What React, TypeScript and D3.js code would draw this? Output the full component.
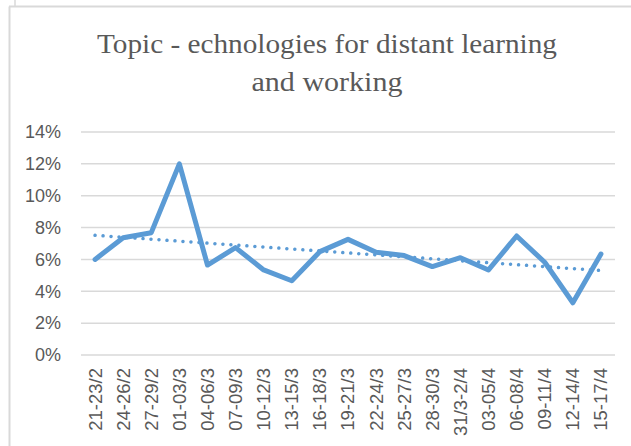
import React from "react";
import * as d3 from "d3";

const categories = [
  "21-23/2", "24-26/2", "27-29/2", "01-03/3", "04-06/3", "07-09/3", "10-12/3",
  "13-15/3", "16-18/3", "19-21/3", "22-24/3", "25-27/3", "28-30/3", "31/3-2/4",
  "03-05/4", "06-08/4", "09-11/4", "12-14/4", "15-17/4",
];
const values = [
  0.060, 0.0736, 0.0768, 0.120, 0.0565, 0.0674, 0.0534, 0.0466, 0.0649, 0.0726,
  0.0645, 0.0624, 0.0555, 0.0611, 0.0534, 0.0747, 0.0582, 0.0328, 0.0634,
];
const yTicks = [0, 0.02, 0.04, 0.06, 0.08, 0.1, 0.12, 0.14];
const titleLines = ["Topic - echnologies for distant learning", "and working"];
const titleWidths = [460, 151];

export default function App() {
  const W = 631, H = 446;
  const left = 81, right = 615, top = 132, bottom = 355;
  const x = d3.scaleBand<string>().domain(categories).range([left, right]);
  const y = d3.scaleLinear().domain([0, 0.14]).range([bottom, top]);
  const cx = (c: string) => (x(c) as number) + x.bandwidth() / 2;

  const line = d3.line<number>().x((_, i) => cx(categories[i])).y((d) => y(d));

  // linear trendline (least squares)
  const idx = values.map((_, i) => i + 1);
  const mx = d3.mean(idx) as number;
  const my = d3.mean(values) as number;
  let sxy = 0, sxx = 0;
  idx.forEach((xi, i) => { sxy += (xi - mx) * (values[i] - my); sxx += (xi - mx) ** 2; });
  const slope = sxy / sxx;
  const intercept = my - slope * mx;
  const trend = idx.map((xi) => intercept + slope * xi);

  return (
    <svg width={W} height={H} style={{ position: "absolute", left: 0, top: 0, background: "#fff" }}>
      <line x1={15} y1={0} x2={15} y2={6} stroke="#d9d9d9" strokeWidth={1.5} />
      <line x1={9} y1={6.5} x2={W} y2={6.5} stroke="#d9d9d9" strokeWidth={2} />
      <line x1={9.5} y1={6.5} x2={9.5} y2={H} stroke="#d9d9d9" strokeWidth={2} />
      {titleLines.map((t, i) => (
        <text key={t} x={327} y={53 + i * 37.5} textAnchor="middle"
          textLength={titleWidths[i]} lengthAdjust="spacingAndGlyphs"
          fontFamily="'Liberation Serif', serif" fontSize={27} fill="#595959">{t}</text>
      ))}
      {yTicks.map((t) => (
        <g key={t}>
          <line x1={left} x2={right} y1={y(t)} y2={y(t)} stroke="#d9d9d9" strokeWidth={1.5} />
          <text x={61} y={y(t)} dy="0.35em" textAnchor="end"
            fontFamily="'Liberation Sans', Arial, sans-serif" fontSize={18} fill="#595959">
            {`${Math.round(t * 100)}%`}
          </text>
        </g>
      ))}
      {categories.map((c) => (
        <text key={c} transform={`translate(${cx(c)},${368}) rotate(-90)`} dy="0.35em" textAnchor="end"
          fontFamily="'Liberation Sans', Arial, sans-serif" fontSize={18.5} fill="#595959">{c}</text>
      ))}
      <path d={line(values) as string} fill="none" stroke="#5b9bd5" strokeWidth={5} strokeLinejoin="round" strokeLinecap="round" />
      <path d={line(trend) as string} fill="none" stroke="#5b9bd5" strokeWidth={3.5} strokeDasharray="0.01 8" strokeLinecap="round" />
    </svg>
  );
}
